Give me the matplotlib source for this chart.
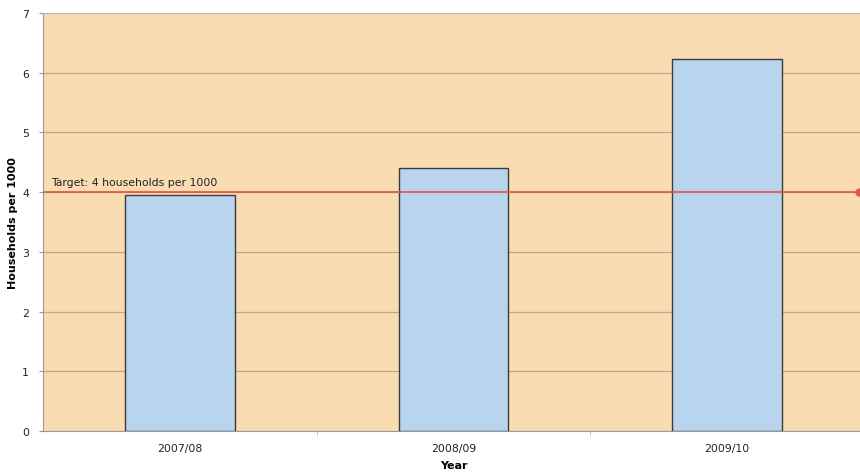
import matplotlib
matplotlib.use("Agg")
import matplotlib.pyplot as plt
import numpy as np

years = ["2007/08", "2008/09", "2009/10"]
values = [3.95, 4.41, 6.23]
target = 4
target_label = "Target: 4 households per 1000"

fig = plt.figure(figsize=(8.6, 4.77), dpi=100)
W, H = 860, 477
ax = fig.add_axes([43 / W, 1 - 432 / H, (864 - 43) / W, (432 - 14) / H])
ax.set_facecolor("#FADCB3")

x = np.arange(len(years))
ax.bar(x, values, width=0.40, color="#B9D4EE", edgecolor="#3a3a3a", linewidth=1.0, zorder=3)

ax.set_xlim(-0.5, len(years) - 0.5)
ax.set_ylim(0, 7)
ax.set_yticks(range(0, 8))
ax.yaxis.grid(True, color="#BCA98F", linewidth=0.9, zorder=1)
ax.set_axisbelow(True)

ax.axhline(target, color="#E0574A", linewidth=1.5, alpha=0.85, zorder=4)
ax.plot([len(years) - 0.52], [target], marker="o", color="#E0574A", markersize=5, clip_on=False, zorder=5)
ax.text(-0.47, target + 0.08, target_label, fontsize=7.8, color="#222222", va="bottom", ha="left", zorder=6)

ax.set_xticks(x)
ax.set_xticklabels(years, fontsize=7.8, color="#222222")
ax.set_xticks(np.arange(0.5, len(years) - 0.5, 1), minor=True)
ax.tick_params(axis="x", which="major", length=0, pad=9)
ax.tick_params(axis="x", which="minor", length=3, color="#BBBBBB", direction="out")
ax.tick_params(axis="y", length=3, color="#999999", labelsize=7.8, labelcolor="#222222", pad=7)

ax.spines["right"].set_visible(False)
ax.spines["top"].set_color("#C8B8B0")
ax.spines["left"].set_color("#999999")
ax.spines["bottom"].set_color("#999999")

ax.set_xlabel("Year", fontsize=8, fontweight="bold", labelpad=5)
ax.set_ylabel("Households per 1000", fontsize=8, fontweight="bold", labelpad=3)

fig.savefig("out.png", dpi=100)
